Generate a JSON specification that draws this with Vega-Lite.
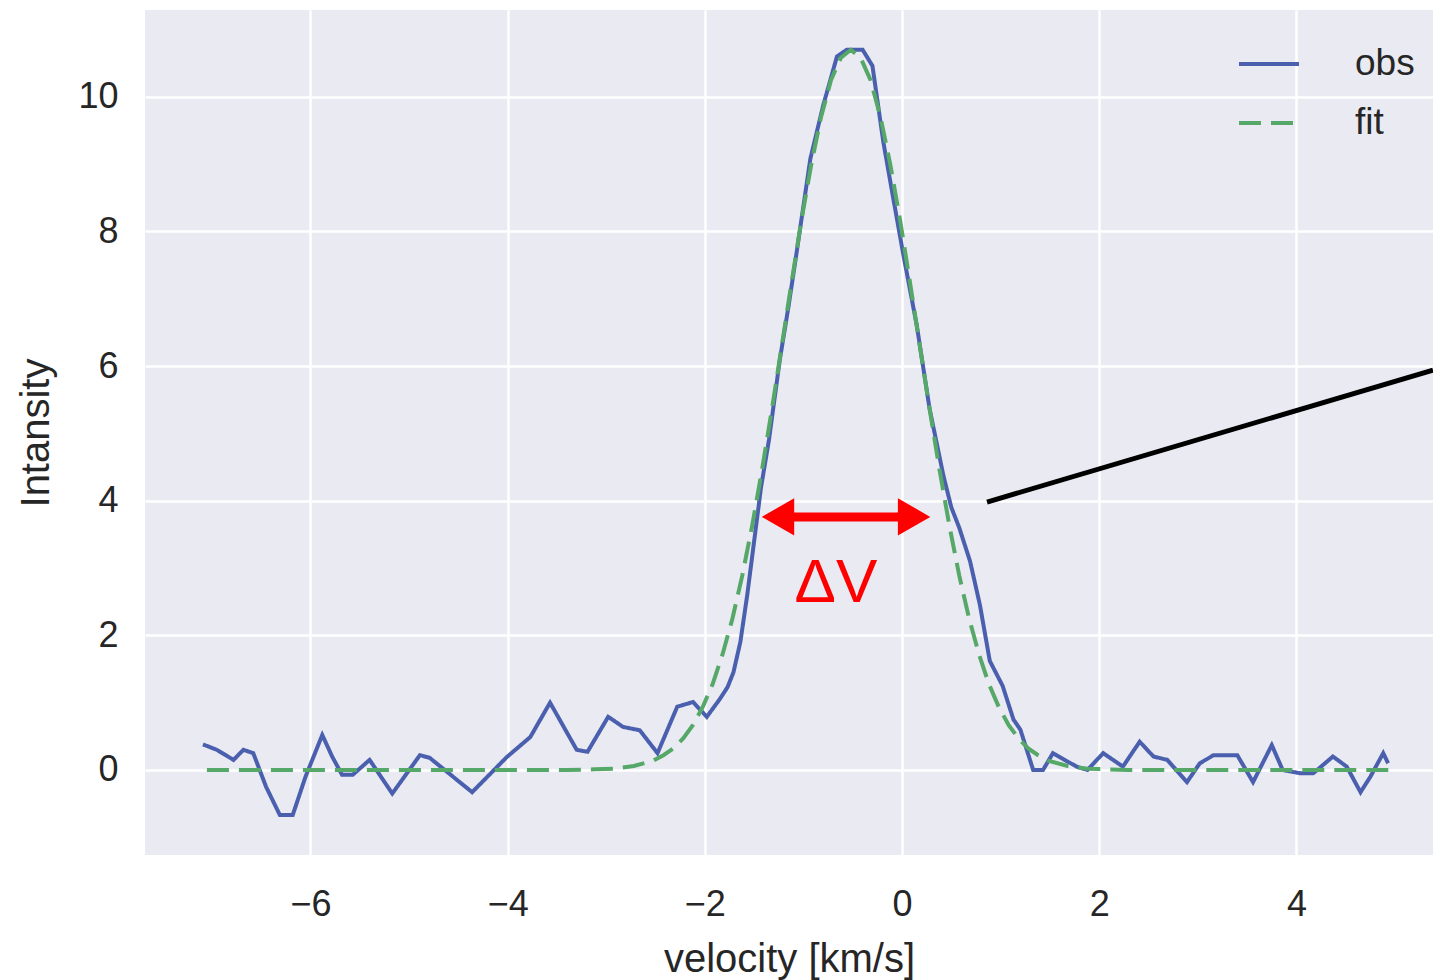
{
  "$schema": "https://vega.github.io/schema/vega-lite/v6.json",
  "width": 1288,
  "height": 845,
  "autosize": {"type": "none"},
  "padding": {"left": 145, "top": 10, "right": 0, "bottom": 125},
  "background": "white",
  "config": {
    "view": {"fill": "#EAEAF2", "stroke": null},
    "axis": {
      "domain": false,
      "ticks": false,
      "gridColor": "white",
      "gridWidth": 2.5,
      "labelFont": "Liberation Sans",
      "labelFontSize": 36,
      "labelColor": "#262626",
      "titleFont": "Liberation Sans",
      "titleFontSize": 40,
      "titleFontWeight": "normal",
      "titleColor": "#262626"
    }
  },
  "datasets": {
    "curves": [
      {"series": "obs", "v": -7.09, "I": 0.38},
      {"series": "obs", "v": -6.95, "I": 0.3},
      {"series": "obs", "v": -6.78, "I": 0.15},
      {"series": "obs", "v": -6.68, "I": 0.3},
      {"series": "obs", "v": -6.58, "I": 0.25},
      {"series": "obs", "v": -6.45, "I": -0.25},
      {"series": "obs", "v": -6.31, "I": -0.67},
      {"series": "obs", "v": -6.18, "I": -0.67},
      {"series": "obs", "v": -6.05, "I": -0.1},
      {"series": "obs", "v": -5.88, "I": 0.52},
      {"series": "obs", "v": -5.78, "I": 0.2},
      {"series": "obs", "v": -5.68, "I": -0.07},
      {"series": "obs", "v": -5.57, "I": -0.07},
      {"series": "obs", "v": -5.4, "I": 0.15},
      {"series": "obs", "v": -5.17, "I": -0.35},
      {"series": "obs", "v": -4.89, "I": 0.22},
      {"series": "obs", "v": -4.79, "I": 0.18},
      {"series": "obs", "v": -4.36, "I": -0.33},
      {"series": "obs", "v": -4.01, "I": 0.19},
      {"series": "obs", "v": -3.77, "I": 0.49},
      {"series": "obs", "v": -3.57, "I": 1.0},
      {"series": "obs", "v": -3.3, "I": 0.3},
      {"series": "obs", "v": -3.19, "I": 0.27},
      {"series": "obs", "v": -2.98, "I": 0.79},
      {"series": "obs", "v": -2.83, "I": 0.64},
      {"series": "obs", "v": -2.66, "I": 0.59},
      {"series": "obs", "v": -2.48, "I": 0.25},
      {"series": "obs", "v": -2.28, "I": 0.94},
      {"series": "obs", "v": -2.12, "I": 1.01},
      {"series": "obs", "v": -1.98, "I": 0.79},
      {"series": "obs", "v": -1.85, "I": 1.05},
      {"series": "obs", "v": -1.77, "I": 1.23},
      {"series": "obs", "v": -1.71, "I": 1.45},
      {"series": "obs", "v": -1.64, "I": 1.9},
      {"series": "obs", "v": -1.57, "I": 2.6},
      {"series": "obs", "v": -1.5, "I": 3.4},
      {"series": "obs", "v": -1.43, "I": 4.2},
      {"series": "obs", "v": -1.35, "I": 4.9},
      {"series": "obs", "v": -1.24, "I": 6.09},
      {"series": "obs", "v": -1.15, "I": 6.9},
      {"series": "obs", "v": -1.07, "I": 7.68},
      {"series": "obs", "v": -0.93, "I": 9.08},
      {"series": "obs", "v": -0.8, "I": 9.87},
      {"series": "obs", "v": -0.66, "I": 10.6},
      {"series": "obs", "v": -0.56, "I": 10.7},
      {"series": "obs", "v": -0.4, "I": 10.7},
      {"series": "obs", "v": -0.3, "I": 10.46},
      {"series": "obs", "v": -0.19, "I": 9.33},
      {"series": "obs", "v": -0.09, "I": 8.5},
      {"series": "obs", "v": 0.01, "I": 7.68},
      {"series": "obs", "v": 0.15, "I": 6.6},
      {"series": "obs", "v": 0.28, "I": 5.36},
      {"series": "obs", "v": 0.42, "I": 4.37},
      {"series": "obs", "v": 0.5, "I": 3.9},
      {"series": "obs", "v": 0.58, "I": 3.6},
      {"series": "obs", "v": 0.69, "I": 3.1},
      {"series": "obs", "v": 0.79, "I": 2.45},
      {"series": "obs", "v": 0.89, "I": 1.62},
      {"series": "obs", "v": 1.02, "I": 1.25},
      {"series": "obs", "v": 1.13, "I": 0.75},
      {"series": "obs", "v": 1.2, "I": 0.6},
      {"series": "obs", "v": 1.33, "I": 0.0},
      {"series": "obs", "v": 1.43, "I": 0.0},
      {"series": "obs", "v": 1.53, "I": 0.25},
      {"series": "obs", "v": 1.77, "I": 0.05},
      {"series": "obs", "v": 1.88, "I": 0.0},
      {"series": "obs", "v": 2.04, "I": 0.25},
      {"series": "obs", "v": 2.24, "I": 0.05},
      {"series": "obs", "v": 2.41, "I": 0.42},
      {"series": "obs", "v": 2.55, "I": 0.2},
      {"series": "obs", "v": 2.69, "I": 0.15},
      {"series": "obs", "v": 2.89, "I": -0.18},
      {"series": "obs", "v": 3.02, "I": 0.1},
      {"series": "obs", "v": 3.16, "I": 0.22},
      {"series": "obs", "v": 3.4, "I": 0.22},
      {"series": "obs", "v": 3.56, "I": -0.18},
      {"series": "obs", "v": 3.75, "I": 0.37},
      {"series": "obs", "v": 3.86, "I": 0.0},
      {"series": "obs", "v": 4.04, "I": -0.05},
      {"series": "obs", "v": 4.17, "I": -0.05},
      {"series": "obs", "v": 4.37, "I": 0.2},
      {"series": "obs", "v": 4.51, "I": 0.05},
      {"series": "obs", "v": 4.65, "I": -0.33},
      {"series": "obs", "v": 4.75, "I": -0.1},
      {"series": "obs", "v": 4.88, "I": 0.25},
      {"series": "obs", "v": 4.93, "I": 0.1},
      {"series": "fit", "v": -7.05, "I": 0},
      {"series": "fit", "v": -3.4, "I": 0},
      {"series": "fit", "v": -3.12, "I": 0.01},
      {"series": "fit", "v": -2.92, "I": 0.02},
      {"series": "fit", "v": -2.72, "I": 0.06},
      {"series": "fit", "v": -2.52, "I": 0.14},
      {"series": "fit", "v": -2.42, "I": 0.22},
      {"series": "fit", "v": -2.32, "I": 0.32},
      {"series": "fit", "v": -2.22, "I": 0.47},
      {"series": "fit", "v": -2.12, "I": 0.67},
      {"series": "fit", "v": -2.02, "I": 0.94},
      {"series": "fit", "v": -1.92, "I": 1.28},
      {"series": "fit", "v": -1.82, "I": 1.72},
      {"series": "fit", "v": -1.72, "I": 2.25},
      {"series": "fit", "v": -1.62, "I": 2.89},
      {"series": "fit", "v": -1.52, "I": 3.63},
      {"series": "fit", "v": -1.42, "I": 4.46},
      {"series": "fit", "v": -1.32, "I": 5.36},
      {"series": "fit", "v": -1.22, "I": 6.3},
      {"series": "fit", "v": -1.12, "I": 7.25},
      {"series": "fit", "v": -1.02, "I": 8.17},
      {"series": "fit", "v": -0.92, "I": 9.0},
      {"series": "fit", "v": -0.82, "I": 9.71},
      {"series": "fit", "v": -0.72, "I": 10.25},
      {"series": "fit", "v": -0.62, "I": 10.58},
      {"series": "fit", "v": -0.52, "I": 10.7},
      {"series": "fit", "v": -0.42, "I": 10.58},
      {"series": "fit", "v": -0.32, "I": 10.25},
      {"series": "fit", "v": -0.22, "I": 9.71},
      {"series": "fit", "v": -0.12, "I": 9.0},
      {"series": "fit", "v": -0.02, "I": 8.17},
      {"series": "fit", "v": 0.08, "I": 7.25},
      {"series": "fit", "v": 0.18, "I": 6.3},
      {"series": "fit", "v": 0.28, "I": 5.36},
      {"series": "fit", "v": 0.38, "I": 4.46},
      {"series": "fit", "v": 0.48, "I": 3.63},
      {"series": "fit", "v": 0.58, "I": 2.89},
      {"series": "fit", "v": 0.68, "I": 2.25},
      {"series": "fit", "v": 0.78, "I": 1.72},
      {"series": "fit", "v": 0.88, "I": 1.28},
      {"series": "fit", "v": 0.98, "I": 0.94},
      {"series": "fit", "v": 1.08, "I": 0.67},
      {"series": "fit", "v": 1.18, "I": 0.47},
      {"series": "fit", "v": 1.28, "I": 0.32},
      {"series": "fit", "v": 1.38, "I": 0.22},
      {"series": "fit", "v": 1.48, "I": 0.14},
      {"series": "fit", "v": 1.68, "I": 0.06},
      {"series": "fit", "v": 1.88, "I": 0.02},
      {"series": "fit", "v": 2.08, "I": 0.01},
      {"series": "fit", "v": 2.3, "I": 0},
      {"series": "fit", "v": 4.95, "I": 0}
    ],
    "pointer": [{"v": 0.862, "I": 3.98, "v2": 5.385, "I2": 5.94}],
    "shaft": [{"v": -1.26, "I": 3.76, "v2": 0.12}],
    "heads": [
      {"v": -1.258, "I": 3.76, "dir": "left"},
      {"v": 0.122, "I": 3.76, "dir": "right"}
    ],
    "label": [{"v": -0.67, "I": 2.78, "text": "ΔV"}]
  },
  "layer": [
    {
      "data": {"name": "curves"},
      "mark": {"type": "line", "strokeWidth": 4, "clip": true},
      "encoding": {
        "x": {
          "field": "v",
          "type": "quantitative",
          "scale": {"domain": [-7.678, 5.385], "nice": false, "zero": false},
          "axis": {
            "title": "velocity [km/s]",
            "values": [-6, -4, -2, 0, 2, 4],
            "format": ".0f",
            "labelPadding": 32,
            "titlePadding": 17
          }
        },
        "y": {
          "field": "I",
          "type": "quantitative",
          "scale": {"domain": [-1.263, 11.29], "nice": false, "zero": false},
          "axis": {
            "title": "Intansity",
            "values": [0, 2, 4, 6, 8, 10],
            "format": ".0f",
            "labelPadding": 27,
            "titlePadding": 21
          }
        },
        "color": {
          "field": "series",
          "type": "nominal",
          "scale": {"domain": ["obs", "fit"], "range": ["#4a5fae", "#55a868"]},
          "legend": {
            "title": null,
            "orient": "none",
            "legendX": 1092,
            "legendY": 22,
            "symbolType": "stroke",
            "symbolSize": 3600,
            "symbolStrokeWidth": 4,
            "labelFont": "Liberation Sans",
            "labelFontSize": 37,
            "labelColor": "#262626",
            "labelOffset": 54,
            "rowPadding": 9
          }
        },
        "strokeDash": {
          "field": "series",
          "type": "nominal",
          "scale": {"domain": ["obs", "fit"], "range": [[1, 0], [22, 10]]},
          "legend": {
            "title": null,
            "orient": "none",
            "legendX": 1092,
            "legendY": 22,
            "symbolType": "stroke",
            "symbolSize": 3600,
            "symbolStrokeWidth": 4,
            "labelFont": "Liberation Sans",
            "labelFontSize": 37,
            "labelColor": "#262626",
            "labelOffset": 54,
            "rowPadding": 9
          }
        }
      }
    },
    {
      "data": {"name": "pointer"},
      "mark": {"type": "rule", "color": "black", "strokeWidth": 5},
      "encoding": {
        "x": {"field": "v", "type": "quantitative"},
        "y": {"field": "I", "type": "quantitative"},
        "x2": {"field": "v2"},
        "y2": {"field": "I2"}
      }
    },
    {
      "data": {"name": "shaft"},
      "mark": {"type": "rule", "color": "#ff0000", "strokeWidth": 9},
      "encoding": {
        "x": {"field": "v", "type": "quantitative"},
        "y": {"field": "I", "type": "quantitative"},
        "x2": {"field": "v2"}
      }
    },
    {
      "data": {"name": "heads"},
      "mark": {"type": "point", "filled": true, "color": "#ff0000", "opacity": 1, "size": 1400},
      "encoding": {
        "x": {"field": "v", "type": "quantitative"},
        "y": {"field": "I", "type": "quantitative"},
        "shape": {
          "field": "dir",
          "type": "nominal",
          "scale": {"domain": ["left", "right"], "range": ["triangle-left", "triangle-right"]},
          "legend": null
        }
      }
    },
    {
      "data": {"name": "label"},
      "mark": {"type": "text", "color": "#ff0000", "fontSize": 62, "font": "Liberation Sans", "align": "center", "baseline": "middle"},
      "encoding": {
        "x": {"field": "v", "type": "quantitative"},
        "y": {"field": "I", "type": "quantitative"},
        "text": {"field": "text"}
      }
    }
  ]
}
